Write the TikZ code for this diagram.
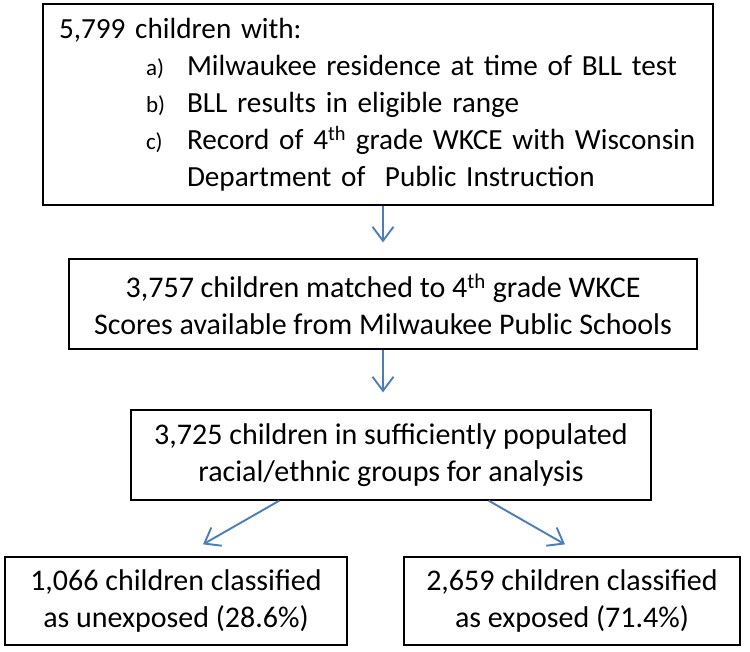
\documentclass[tikz,border=0pt]{standalone}
\definecolor{FlowBlue}{RGB}{74,126,187}
\definecolor{FlowDark}{RGB}{0,0,0}
\usepackage{fontspec}
\setmainfont{Carlito}
\usepackage{tikz}
\usetikzlibrary{arrows.meta, positioning, calc}
\newcommand{\mainsize}{\fontsize{30}{37}\selectfont}
\newcommand{\itemlbl}[1]{\makebox[41pt][l]{\fontsize{23}{37}\selectfont #1}}

\begin{document}
\begin{tikzpicture}[x=1pt, y=-1pt,
    box/.style={draw=FlowDark, line width=1.3pt, align=center,
                font=\mainsize, inner sep=0pt},
    arr/.style={-{Straight Barb[length=14pt, width=21pt]}, line width=1.9pt, FlowBlue}
  ]
    \fill[white] (0,0) rectangle (750,652);
    \useasboundingbox (0,0) rectangle (750,652);

    % Eligible children
    \node[box, align=left, minimum width=670pt, minimum height=201pt,
          text width=638pt, font=\fontsize{29.2}{37}\selectfont] (elig) at (378, 104.5)
      {\mbox{5,799 children with:}\\
       \mbox{\hspace*{87pt}\itemlbl{a)}Milwaukee residence at time of BLL test}\\
       \mbox{\hspace*{87pt}\itemlbl{b)}BLL results in eligible range}\\
       \mbox{\hspace*{87pt}\itemlbl{c)}Record of 4\textsuperscript{th} grade WKCE with Wisconsin}\\
       \mbox{\hspace*{128pt}Department of~ Public Instruction}};

    % Matched to scores
    \node[box, minimum width=628pt, minimum height=90pt] (match) at (383, 304)
      {3,757 children matched to 4\textsuperscript{th} grade WKCE\\
       Scores available from Milwaukee Public Schools};

    % Populated groups
    \node[box, minimum width=520pt, minimum height=90pt] (popul) at (391, 455)
      {3,725 children in sufficiently populated\\
       racial/ethnic groups for analysis};

    % Exposure classes
    \node[box, minimum width=342pt, minimum height=88pt] (unexp) at (176, 601)
      {1,066 children classified\\as unexposed (28.6\%)};

    \node[box, minimum width=336pt, minimum height=88pt] (expo) at (572, 601)
      {2,659 children classified\\as exposed (71.4\%)};

    \draw[arr, shorten >=16pt] (match.north |- elig.south) -- (match.north);
    \draw[arr, shorten >=17pt] (match.south) -- (match.south |- popul.north);
    \draw[arr] ([xshift=149pt]popul.south west) -- ([xshift=27pt, yshift=12pt]unexp.north);
    \draw[arr] ([xshift=-163pt]popul.south east) -- ([xshift=-7pt, yshift=12pt]expo.north);
  \end{tikzpicture}
\end{document}
